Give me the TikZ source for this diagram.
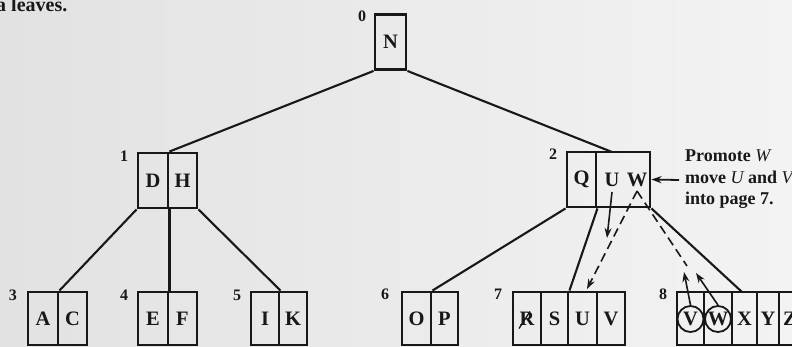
\documentclass[tikz,border=0pt]{standalone}
\usepackage{fontspec}
\setmainfont{Liberation Serif}
\usetikzlibrary{arrows.meta}
\definecolor{paperL}{RGB}{226,226,226}
\definecolor{paperR}{RGB}{243,243,243}
\definecolor{ink}{RGB}{24,24,24}
\begin{document}
\begin{tikzpicture}[x=1pt,y=-1pt,
  cell/.style={draw=ink, line width=2.9pt, inner sep=0pt, text=ink,
    font=\fontsize{20.5}{20.5}\selectfont\bfseries},
  inner/.style={cell, minimum height=55pt},
  leaf/.style={cell, minimum height=53pt},
  pagenum/.style={text=ink, inner sep=0pt, font=\fontsize{16}{16}\selectfont\bfseries},
  note/.style={text=ink, inner sep=0pt, anchor=base west, font=\fontsize{18}{18}\selectfont\bfseries},
  key/.style={text=ink, inner sep=0pt, font=\fontsize{20.5}{20.5}\selectfont\bfseries},
  link/.style={draw=ink, line width=2.1pt},
  tip/.style={-{Stealth[length=10pt,width=7pt]}},
  mover/.style={draw=ink, line width=1.6pt, tip},
  ghost/.style={draw=ink, line width=1.6pt, dash pattern=on 9pt off 5pt},
  ring/.style={circle, draw=ink, line width=1.8pt, minimum size=26pt, inner sep=0pt}]

% page background
\useasboundingbox (0,0) rectangle (792,347);
\fill[left color=paperL, right color=paperR] (0,0) rectangle (792,347);

% running text above the tree
\node[note, font=\fontsize{20}{20}\selectfont\bfseries] (lead) at (-4,12) {a leaves.};

% root page 0
\node[inner, minimum width=31pt] (n) at (390.5,42) {N};
\node[pagenum] (p0) at (362,16) {0};

% page 1
\node[inner, minimum width=30pt] (d) at (153,180.5) {D};
\node[inner, minimum width=29pt] (h) at (182.5,180.5) {H};
\node[pagenum] (p1) at (124,156) {1};

% page 2
\node[inner, minimum width=29pt] (q) at (581.5,179.5) {Q};
\node[inner, minimum width=54pt] (uw) at (623,179.5) {};
\node[key] (ku) at (612,180) {U};
\node[key] (kw) at (637,180) {W};
\node[pagenum] (p2) at (553,154) {2};

% leaf pages 3--5
\node[leaf, minimum width=30pt] (a) at (43,318.5) {A};
\node[leaf, minimum width=29pt] (c) at (72.5,318.5) {C};
\node[pagenum] (p3) at (13,295) {3};
\node[leaf, minimum width=30pt] (e) at (153,318.5) {E};
\node[leaf, minimum width=29pt] (f) at (182.5,318.5) {F};
\node[pagenum] (p4) at (124,295) {4};
\node[leaf, minimum width=28pt] (i) at (265,318.5) {I};
\node[leaf, minimum width=28pt] (k) at (293,318.5) {K};
\node[pagenum] (p5) at (237,295) {5};

% leaf pages 6--8
\node[leaf, minimum width=29pt] (o) at (416.5,318.5) {O};
\node[leaf, minimum width=27pt] (p) at (444.5,318.5) {P};
\node[pagenum] (p6) at (385,294) {6};
\node[leaf, minimum width=28pt] (r7) at (527,318.5) {R};
\node[leaf, minimum width=27pt] (s7) at (554.5,318.5) {S};
\node[leaf, minimum width=29pt] (u7) at (582.5,318.5) {U};
\node[leaf, minimum width=28pt] (v7) at (611,318.5) {V};
\node[pagenum] (p7) at (498,294) {7};
\node[leaf, minimum width=27pt] (v8) at (690.5,318.5) {V};
\node[leaf, minimum width=28pt] (w8) at (718,318.5) {W};
\node[leaf, minimum width=25pt] (x8) at (744.5,318.5) {X};
\node[leaf, minimum width=22pt] (y8) at (768,318.5) {Y};
\node[leaf, minimum width=22pt] (z8) at (790,318.5) {Z};
\node[pagenum] (p8) at (663,294) {8};

% struck-out key R
\draw[ink, line width=1.3pt] (r7.center) ++(-8,10) -- ++(11,-17);

% keys V and W leaving page 8
\node[ring] (cv) at (690.5,319) {};
\node[ring] (cw) at (718,319) {};

% tree links
\coordinate (uwTop) at (612,152);
\coordinate (xTop) at (742,292);
\draw[link] (n.south west) -- (d.north east);
\draw[link] (n.south east) -- (uwTop);
\draw[link] (d.south west) -- (a.north east);
\draw[link] (d.south east) -- (e.north east);
\draw[link] (h.south east) -- (i.north east);
\draw[link] (q.south west) -- (o.north east);
\draw[link] (q.south east) -- (s7.north east);
\draw[link] (uw.south east) -- (xTop);

% moves of the keys
\coordinate (uDrop) at (607,238);
\coordinate (uLand) at (587,289);
\coordinate (vwGap) at (687,266);
\coordinate (vRise) at (684,272);
\coordinate (wRise) at (696,273);
\draw[mover] ([yshift=-5pt]ku.south) -- (uDrop);
\draw[ghost, tip] ([yshift=-4pt]kw.south) -- (uLand);
\draw[ghost] ([yshift=-4pt]kw.south) -- (vwGap);
\draw[mover] (cv.north) -- (vRise);
\draw[mover] (cw.north) -- (wRise);

% side note
\node[note] (t1) at (685,162) {Promote {\mdseries\itshape W}};
\node[note] (t2) at (685,184) {move {\mdseries\itshape U} and {\mdseries\itshape V}};
\node[note] (t3) at (685,205) {into page 7.};
\coordinate (noteTail) at (679,180);
\draw[link, line width=1.8pt, tip] (noteTail) -- (uw.east);
\end{tikzpicture}
\end{document}
